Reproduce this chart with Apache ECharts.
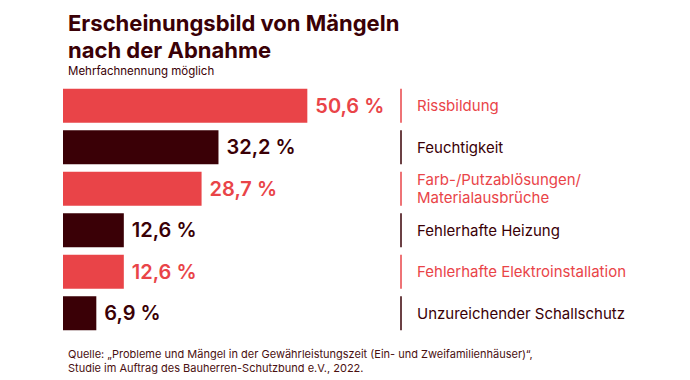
<!DOCTYPE html>
<html><head><meta charset="utf-8">
<script src="https://cdn.jsdelivr.net/npm/echarts@6/dist/echarts.min.js"></script>
<style>html,body{margin:0;padding:0;background:#fff}#c{width:690px;height:380px}</style>
</head><body><div id="c"></div>
<script>
const categories = ['Rissbildung','Feuchtigkeit','Farb-/Putzablösungen/\nMaterialausbrüche','Fehlerhafte Heizung','Fehlerhafte Elektroinstallation','Unzureichender Schallschutz'];
const values = [50.6, 32.2, 28.7, 12.6, 12.6, 6.9];
const valueLabels = ['50,6 %','32,2 %','28,7 %','12,6 %','12,6 %','6,9 %'];
const RED = '#E94448', DARK = '#3A0006';
const colors = [RED, DARK, RED, DARK, RED, DARK];
const X_MAX = 70;

const chart = echarts.init(document.getElementById('c'), null, {renderer:'svg'});
chart.setOption({
  animation:false,
  textStyle:{fontFamily:'Inter'},
  title:[
    {text:'Erscheinungsbild von Mängeln\nnach der Abnahme', left:63, top:4,
     textStyle:{fontFamily:'Inter', fontSize:22, fontWeight:'bold', lineHeight:27, color:DARK}},
    {text:'Mehrfachnennung möglich', left:63, top:60,
     textStyle:{fontFamily:'Inter', fontSize:11.5, fontWeight:'normal', color:DARK}},
    {text:'Quelle: „Probleme und Mängel in der Gewährleistungszeit (Ein- und Zweifamilienhäuser)“,\nStudie im Auftrag des Bauherren-Schutzbund e.V., 2022.', left:63, top:342,
     textStyle:{fontFamily:'Inter', fontSize:11, fontWeight:'normal', lineHeight:14, color:'#4A1010'}}
  ],
  grid:{left:63, top:85, width:338, height:249},
  xAxis:{type:'value', min:0, max:X_MAX, show:false},
  yAxis:{type:'category', data:categories, inverse:true, show:false},
  series:[
    {type:'bar', barWidth:34,
     data: values.map((v,i)=>({value:v, itemStyle:{color:colors[i]},
       label:{color:colors[i]}})),
     label:{show:true, position:'right', distance:8,
       formatter:p=>valueLabels[p.dataIndex],
       fontFamily:'Inter', fontSize:20, fontWeight:600}},
    {type:'custom', silent:true,
     data: categories.map((c,i)=>[X_MAX, i]),
     renderItem:(params, api)=>{
       const i = api.value(1);
       const pt = api.coord([api.value(0), i]);
       const h = 34;
       const col = colors[i];
       return {type:'group', children:[
         {type:'rect', shape:{x:pt[0]-0.75, y:pt[1]-h/2, width:1.5, height:h}, style:{fill:col}},
         {type:'text', x:pt[0]+16, y:pt[1], style:{text:categories[i], fill:col,
           font:'15px Inter', lineHeight:18, verticalAlign:'middle', align:'left'}}
       ]};
     }}
  ]
});
</script></body></html>
